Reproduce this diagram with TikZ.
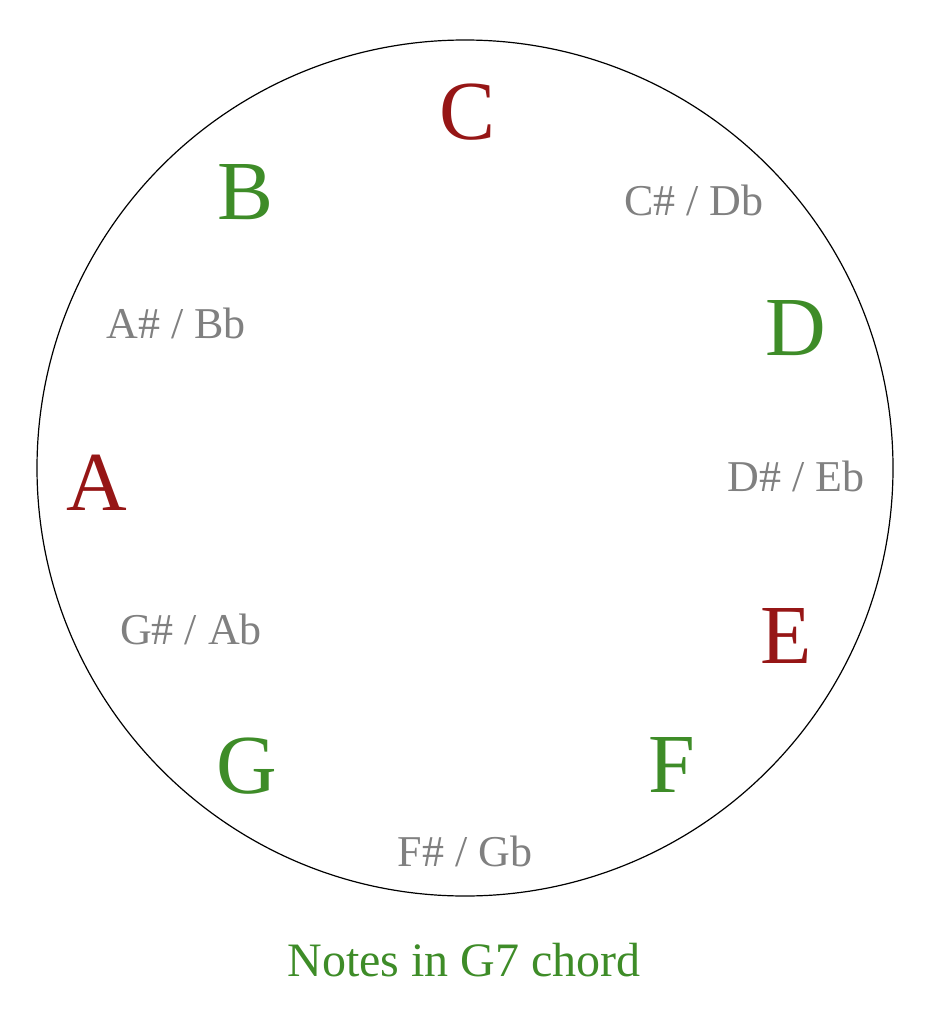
\documentclass[tikz,border=0pt]{standalone}
\usepackage{fontspec}
\setmainfont{Liberation Serif}
\definecolor{nred}{RGB}{150,22,22}
\definecolor{ngreen}{RGB}{62,140,40}
\definecolor{ngray}{RGB}{128,128,128}
\begin{document}
\begin{tikzpicture}[x=1pt,y=-1pt,
  big/.style={font=\fontsize{84}{84}\selectfont,inner sep=0pt},
  red/.style={big,text=nred},
  grn/.style={big,text=ngreen},
  gry/.style={font=\fontsize{44}{44}\selectfont,text=ngray,inner sep=0pt}]
\useasboundingbox (0,0) rectangle (933,1024);
\node[draw,circle,minimum size=856pt,line width=1.2pt] (circ) at (465,468) {};
\node[red] (c) at (468,112) {C};
\node[grn] (b) at (246,192) {B};
\node[gry] (cs) at (694,200) {C\# / Db};
\node[gry] (as) at (176,323) {A\# / Bb};
\node[grn] (d) at (796,328) {D};
\node[red] (a) at (97,483) {A};
\node[gry] (ds) at (796,476) {D\# / Eb};
\node[gry] (gs) at (191,629) {G\# / Ab};
\node[red] (e) at (786,636) {E};
\node[grn] (g) at (247,766) {G};
\node[grn] (f) at (672,765) {F};
\node[gry] (fs) at (465,851) {F\# / Gb};
\node[font=\fontsize{48}{48}\selectfont,text=ngreen] (cap) at (464,960) {Notes in G7 chord};
\end{tikzpicture}
\end{document}
